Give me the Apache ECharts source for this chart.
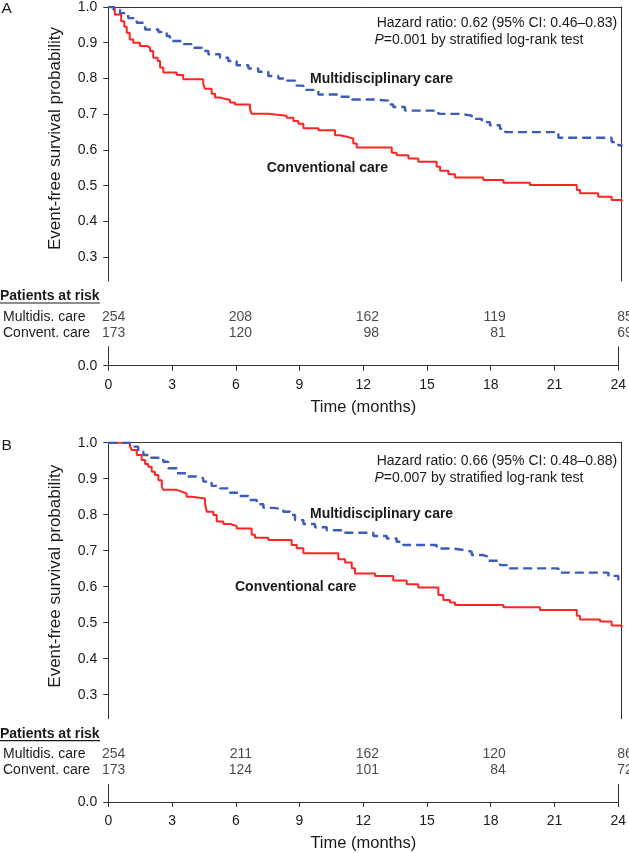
<!DOCTYPE html>
<html><head><meta charset="utf-8">
<script src="https://cdn.jsdelivr.net/npm/echarts@6/dist/echarts.min.js"></script>
<style>html,body{margin:0;padding:0;background:#fff}#c{width:629px;height:853px}</style>
</head><body><div id="c"></div>
<script>
// ---- Data ----
const timeTicks = [0, 3, 6, 9, 12, 15, 18, 21, 24];
const survTicks = [0.3, 0.4, 0.5, 0.6, 0.7, 0.8, 0.9, 1.0];
const riskTimes = [0, 6, 12, 18, 24];
const riskRows = ['Multidis. care', 'Convent. care'];

const A_multi = [[0,1],[0.25,0.992],[0.55,0.983],[0.93,0.969],[1.33,0.956],[1.72,0.937],[2.34,0.930],[2.73,0.919],[2.88,0.905],[3.43,0.896],[3.9,0.886],[4.37,0.877],[4.68,0.868],[5.22,0.858],[5.61,0.849],[6.0,0.837],[6.55,0.828],[7.01,0.819],[7.48,0.807],[7.95,0.800],[8.34,0.794],[8.73,0.780],[9.12,0.768],[9.82,0.755],[10.75,0.749],[11.38,0.741],[12.39,0.738],[13.09,0.727],[13.32,0.720],[13.87,0.710],[15.43,0.701],[16.44,0.696],[16.99,0.687],[17.46,0.678],[17.84,0.669],[18.31,0.659],[18.55,0.650],[21.04,0.634],[23.53,0.622],[23.84,0.613],[24,0.610]];
const A_conv = [[0,1],[0.3,0.979],[0.6,0.960],[0.75,0.945],[0.86,0.928],[1.0,0.909],[1.17,0.900],[1.48,0.891],[1.8,0.886],[1.95,0.877],[2.1,0.858],[2.31,0.849],[2.42,0.831],[2.57,0.817],[3.2,0.810],[3.5,0.798],[4.44,0.785],[4.52,0.771],[4.83,0.757],[4.99,0.747],[5.22,0.743],[5.46,0.740],[5.69,0.733],[5.92,0.727],[6.62,0.715],[6.7,0.701],[7.48,0.696],[8.34,0.690],[8.65,0.681],[8.88,0.673],[9.12,0.661],[9.82,0.655],[10.6,0.641],[10.83,0.636],[11.22,0.632],[11.45,0.618],[11.61,0.607],[13.25,0.592],[13.48,0.585],[14.03,0.576],[14.49,0.567],[15.35,0.553],[15.51,0.542],[15.9,0.532],[16.21,0.523],[17.53,0.516],[18.47,0.508],[19.71,0.502],[21.9,0.488],[22.05,0.479],[22.9,0.469],[23.53,0.460],[24,0.456]];
const B_multi = [[0,1],[1.05,0.995],[1.17,0.989],[1.4,0.975],[1.64,0.966],[1.87,0.958],[2.57,0.947],[2.8,0.929],[3.2,0.915],[3.66,0.906],[4.21,0.901],[4.44,0.892],[4.83,0.880],[5.22,0.873],[5.69,0.861],[6.08,0.852],[6.55,0.841],[6.94,0.829],[7.25,0.819],[7.71,0.815],[8.18,0.808],[8.5,0.799],[8.73,0.785],[9.12,0.774],[9.66,0.765],[10.21,0.757],[11.07,0.750],[12.39,0.741],[13.02,0.734],[13.48,0.725],[13.79,0.716],[15.35,0.706],[16.13,0.702],[16.6,0.697],[16.99,0.688],[17.53,0.683],[17.77,0.672],[18.31,0.660],[18.63,0.651],[21.04,0.639],[23.38,0.630],[23.84,0.620],[24,0.618]];
const B_conv = [[0,1],[1.01,0.990],[1.09,0.980],[1.33,0.966],[1.56,0.952],[1.72,0.941],[1.87,0.933],[2.03,0.919],[2.18,0.910],[2.34,0.896],[2.5,0.878],[2.57,0.869],[3.2,0.864],[3.43,0.859],[3.66,0.850],[3.9,0.845],[4.52,0.831],[4.6,0.808],[4.91,0.799],[5.07,0.781],[5.38,0.774],[5.69,0.769],[6.0,0.762],[6.7,0.744],[6.86,0.736],[7.48,0.730],[8.57,0.716],[8.81,0.707],[9.12,0.693],[10.75,0.676],[11.07,0.667],[11.38,0.651],[11.53,0.637],[12.47,0.630],[13.32,0.617],[13.95,0.607],[14.49,0.598],[15.43,0.577],[15.66,0.563],[15.97,0.556],[16.21,0.549],[18.47,0.543],[20.18,0.535],[21.9,0.519],[22.05,0.509],[22.99,0.503],[23.53,0.492],[24,0.487]];

const A_riskMulti = [254, 208, 162, 119, 85];
const A_riskConv  = [173, 120, 98, 81, 69];
const B_riskMulti = [254, 211, 162, 120, 86];
const B_riskConv  = [173, 124, 101, 84, 72];

const panels = [
  { letter: 'A', top: 5, multi: A_multi, conv: A_conv, riskMulti: A_riskMulti, riskConv: A_riskConv,
    hr: 'Hazard ratio: 0.62 (95% CI: 0.46\u20130.83)', p: '=0.001 by stratified log-rank test',
    multiLbl: [310, 74], convLbl: [266.7, 163.3] },
  { letter: 'B', top: 442.7, multi: B_multi, conv: B_conv, riskMulti: B_riskMulti, riskConv: B_riskConv,
    hr: 'Hazard ratio: 0.66 (95% CI: 0.48\u20130.88)', p: '=0.007 by stratified log-rank test',
    multiLbl: [310, 71.3], convLbl: [235, 144] }
];

// ---- Layout ----
const FONT = '"Liberation Sans", Arial, Helvetica, sans-serif';
const TXT = '#1a1a1a';
const AX = '#333';
const LEFT = 108.3, WIDTH = 513.4, PX = 360;
const UPPER_MIN = 1 - 276 / PX;
const LOWER_MAX = 19 / PX;
const RED = '#ff2424', BLUE = '#3b5cb8';

const grid = [], xAxis = [], yAxis = [], series = [], graphic = [];
const axLine = { show: true, lineStyle: { color: AX, width: 1 } };

panels.forEach((pn, k) => {
  const T = pn.top;
  const g0 = grid.length;
  grid.push({ left: LEFT, width: WIDTH, top: T, height: 276 });            // main
  grid.push({ left: LEFT, width: WIDTH, top: T + 341.7, height: 19 });     // below break
  grid.push({ left: LEFT, width: WIDTH, top: T + 303.7, height: 32 });     // risk table

  const xi = xAxis.length;
  xAxis.push({ gridIndex: g0, type: 'value', min: 0, max: 24, position: 'top',
    axisLine: axLine, axisTick: { show: false }, axisLabel: { show: false }, splitLine: { show: false } });
  xAxis.push({ gridIndex: g0 + 1, type: 'value', min: 0, max: 24, interval: 3, position: 'bottom',
    axisLine: axLine, axisTick: { show: true, length: 5, lineStyle: { color: AX } },
    axisLabel: { margin: 12, fontSize: 14, color: TXT, fontFamily: FONT, customValues: timeTicks },
    splitLine: { show: false },
    name: 'Time (months)', nameLocation: 'middle', nameGap: 33,
    nameTextStyle: { fontSize: 16.5, color: TXT, fontFamily: FONT } });
  xAxis.push({ gridIndex: g0 + 2, type: 'value', min: 0, max: 24, show: false });

  const yi = yAxis.length;
  yAxis.push({ gridIndex: g0, type: 'value', min: UPPER_MIN, max: 1, position: 'left',
    axisLine: axLine, axisTick: { show: true, length: 5, lineStyle: { color: AX }, customValues: survTicks },
    axisLabel: { margin: 11, fontSize: 14, color: TXT, fontFamily: FONT, customValues: survTicks,
      formatter: v => v.toFixed(1) },
    splitLine: { show: false } });
  yAxis.push({ gridIndex: g0, type: 'value', min: UPPER_MIN, max: 1, position: 'right',
    axisLine: axLine, axisTick: { show: false }, axisLabel: { show: false }, splitLine: { show: false } });
  yAxis.push({ gridIndex: g0 + 1, type: 'value', min: 0, max: LOWER_MAX, position: 'left',
    axisLine: axLine, axisTick: { show: true, length: 5, lineStyle: { color: AX }, customValues: [0] },
    axisLabel: { margin: 11, fontSize: 14, color: TXT, fontFamily: FONT, customValues: [0],
      formatter: v => v.toFixed(1) },
    splitLine: { show: false } });
  yAxis.push({ gridIndex: g0 + 1, type: 'value', min: 0, max: LOWER_MAX, position: 'right',
    axisLine: axLine, axisTick: { show: false }, axisLabel: { show: false }, splitLine: { show: false } });
  yAxis.push({ gridIndex: g0 + 2, type: 'category', data: riskRows, inverse: true, position: 'left',
    axisLine: { show: false }, axisTick: { show: false }, splitLine: { show: false },
    axisLabel: { interval: 0, hideOverlap: false, align: 'left', margin: LEFT + 3, fontSize: 14, color: TXT, fontFamily: FONT } });

  series.push({ type: 'line', xAxisIndex: xi, yAxisIndex: yi, step: 'end', showSymbol: false, symbol: 'none',
    data: pn.conv, lineStyle: { color: RED, width: 2 }, z: 3, animation: false });
  series.push({ type: 'line', xAxisIndex: xi, yAxisIndex: yi, step: 'end', showSymbol: false, symbol: 'none',
    data: pn.multi, lineStyle: { color: BLUE, width: 2.4, type: [9, 5] }, z: 4, animation: false });

  [pn.riskMulti, pn.riskConv].forEach((arr, r) => {
    series.push({ type: 'scatter', xAxisIndex: xi + 2, yAxisIndex: yi + 4, clip: false, animation: false,
      symbolSize: 1, itemStyle: { color: 'rgba(0,0,0,0)' }, silent: true,
      data: arr.map((n, j) => [riskTimes[j], r, n]),
      label: { show: true, position: 'left', distance: 0, offset: [11.5, 0],
        fontSize: 14, color: TXT, fontFamily: FONT, formatter: p => String(p.value[2]) } });
  });

  graphic.push({ type: 'text', x: 1.5, y: T + 3.5, style: { text: pn.letter, fontSize: 15.5, fontFamily: FONT,
    fill: TXT, textAlign: 'left', textVerticalAlign: 'middle' } });
  graphic.push({ type: 'text', x: 55.5, y: T + 133.5, rotation: Math.PI / 2, style: {
    text: 'Event-free survival probability', fontSize: 17, fontFamily: FONT, fill: TXT,
    textAlign: 'center', textVerticalAlign: 'middle' } });
  graphic.push({ type: 'text', x: 376.7, y: T + 18.5, style: { text: pn.hr, fontSize: 14, fontFamily: FONT,
    fill: TXT, textAlign: 'left', textVerticalAlign: 'middle' } });
  graphic.push({ type: 'text', x: 374.5, y: T + 35.2, style: { text: '{i|P}' + pn.p, fontSize: 14, fontFamily: FONT,
    fill: TXT, textAlign: 'left', textVerticalAlign: 'middle',
    rich: { i: { fontStyle: 'italic', fontSize: 14, fontFamily: FONT, fill: TXT } } } });
  graphic.push({ type: 'text', x: pn.multiLbl[0], y: T + pn.multiLbl[1], style: { text: 'Multidisciplinary care',
    fontSize: 14, fontWeight: 'bold', fontFamily: FONT, fill: TXT, textAlign: 'left', textVerticalAlign: 'middle' } });
  graphic.push({ type: 'text', x: pn.convLbl[0], y: T + pn.convLbl[1], style: { text: 'Conventional care',
    fontSize: 14, fontWeight: 'bold', fontFamily: FONT, fill: TXT, textAlign: 'left', textVerticalAlign: 'middle' } });
  graphic.push({ type: 'text', x: 0, y: T + 291, style: { text: 'Patients at risk',
    fontSize: 14, fontWeight: 'bold', fontFamily: FONT, fill: TXT, textAlign: 'left', textVerticalAlign: 'middle' } });
  graphic.push({ type: 'line', shape: { x1: 0, y1: T + 298, x2: 100, y2: T + 298 },
    style: { stroke: TXT, lineWidth: 1.2 } });
});

const chart = echarts.init(document.getElementById('c'), null, { renderer: 'canvas' });
chart.setOption({ animation: false, backgroundColor: '#fff', grid, xAxis, yAxis, series, graphic });
</script></body></html>
